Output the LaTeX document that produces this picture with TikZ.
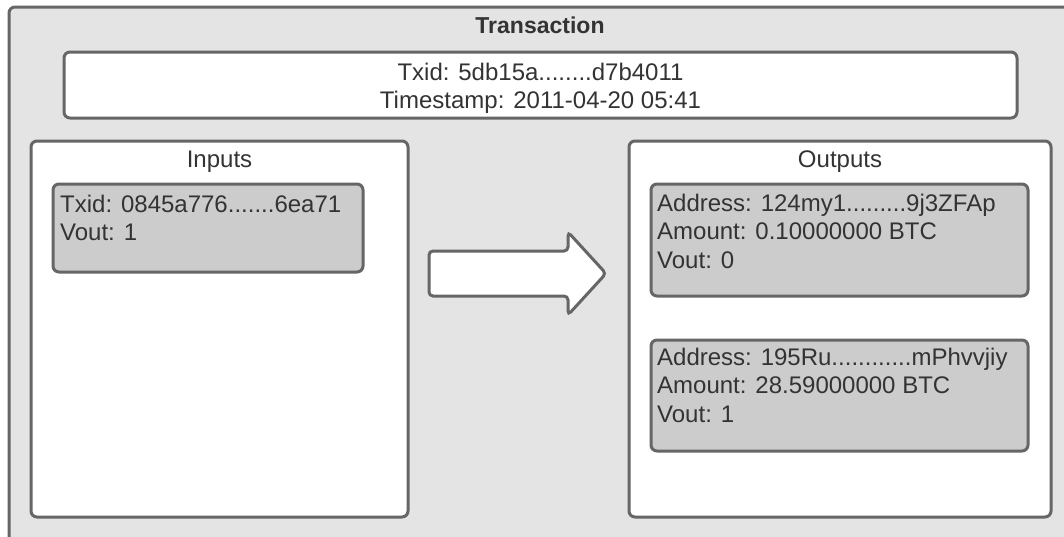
\documentclass[tikz,border=0pt]{standalone}
\usepackage{fontspec}
\setmainfont{Liberation Sans}
\definecolor{edgec}{HTML}{666666}
\definecolor{outerc}{HTML}{E4E4E4}
\definecolor{itemc}{HTML}{CCCCCC}
\definecolor{textc}{HTML}{333333}
\begin{document}
\begin{tikzpicture}[x=1pt,y=-1pt,
  box/.style={draw=edgec, line width=3pt, rounded corners=6pt, anchor=north west, inner sep=0pt, outer sep=0pt},
  txt/.style={inner sep=0pt, text=textc, font=\fontsize{24}{28.5}\selectfont}]
\useasboundingbox (0,0) rectangle (1064,536);
\clip (0,0) rectangle (1064,536);
% boxes
\node[box, fill=outerc, minimum width=1084pt, minimum height=560pt] (tx) at (9,7) {};
\node[box, fill=white, minimum width=953pt, minimum height=66pt] (head) at (64,52) {};
\node[box, fill=white, minimum width=377pt, minimum height=376pt] (inputs) at (31,141) {};
\node[box, fill=itemc, minimum width=310pt, minimum height=88pt] (in1) at (53,184) {};
\node[box, fill=white, minimum width=422pt, minimum height=376pt] (outputs) at (629,141) {};
\node[box, fill=itemc, minimum width=377pt, minimum height=112pt] (out1) at (651,184) {};
\node[box, fill=itemc, minimum width=377pt, minimum height=111pt] (out2) at (651,340) {};
% arrow
\draw[draw=edgec, fill=white, line width=3pt, rounded corners=4pt]
  (429,251) -- (568,251) -- (568,232) -- (606,273.5) -- (568,315) -- (568,296) -- (429,296) -- cycle;
% texts
\node[txt, anchor=base, font=\bfseries\fontsize{23}{27}\selectfont] (title) at (540,33) {Transaction};
\node[txt, anchor=base] (headtxt) at (540.5,80) {\begin{tabular}[t]{@{}c@{}}Txid: 5db15a........d7b4011\\Timestamp: 2011-04-20 05:41\end{tabular}};
\node[txt, anchor=base] (inlabel) at (219.5,167) {Inputs};
\node[txt, anchor=base] (outlabel) at (840,167) {Outputs};
\node[txt, anchor=base west] (in1txt) at (60,212) {\begin{tabular}[t]{@{}l@{}}Txid: 0845a776.......6ea71\\Vout: 1\end{tabular}};
\node[txt, anchor=base west] (out1txt) at (657,211) {\begin{tabular}[t]{@{}l@{}}Address: 124my1.........9j3ZFAp\\Amount: 0.10000000 BTC\\Vout: 0\end{tabular}};
\node[txt, anchor=base west] (out2txt) at (657,365) {\begin{tabular}[t]{@{}l@{}}Address: 195Ru............mPhvvjiy\\Amount: 28.59000000 BTC\\Vout: 1\end{tabular}};
\end{tikzpicture}
\end{document}
